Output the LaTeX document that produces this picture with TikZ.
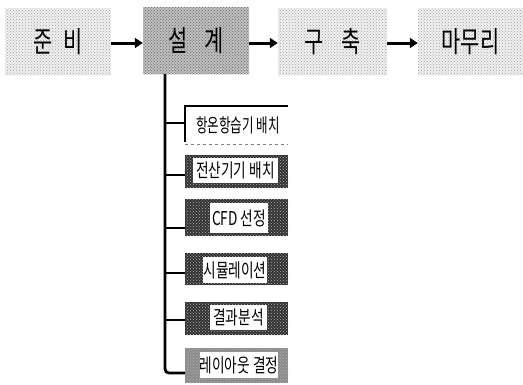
\documentclass[tikz,border=0pt]{standalone}
\usepackage{fontspec}
\setmainfont{Noto Sans CJK KR}
\newfontfamily\condfont[FakeStretch=0.72]{Noto Sans CJK KR}
\newfontfamily\narrowfont[FakeStretch=0.66]{Noto Sans CJK KR}
\usetikzlibrary{patterns,arrows.meta}
\begin{document}
\begin{tikzpicture}[x=1pt,y=-1pt,
  phase/.style={rectangle, inner sep=0pt, minimum height=67pt, fill=gray!12,
    postaction={pattern=crosshatch dots, pattern color=gray!75}, font=\condfont\fontsize{29}{31}\selectfont},
  phasedark/.style={phase, fill=gray!50, postaction={pattern=crosshatch dots, pattern color=gray!85!black}},
  outerbox/.style={rectangle, inner sep=0pt, minimum width=103pt, fill=black!80,
    postaction={pattern=crosshatch dots, pattern color=gray!60}},
  innerbox/.style={rectangle, inner sep=0pt, fill=white, font=\condfont\fontsize{19}{21}\selectfont},
  flow/.style={line width=3pt, -{Triangle[length=8pt,width=10pt]}},
  trunk/.style={line width=2.8pt}]
\useasboundingbox (0,0) rectangle (523,384);
% top row
\node[phase, minimum width=106pt] (prep) at (58,41.5) {준\hspace{0.35em}비};
\node[phasedark, minimum width=106pt] (design) at (196,40.5) {설\hspace{0.6em}계};
\node[phase, minimum width=109pt] (build) at (332.5,41.5) {구\hspace{0.6em}축};
\node[phase, minimum width=105pt] (finish) at (470.5,41.5) {마무리};
\draw[flow] (prep.east |- 0,43) -- (design.west |- 0,43);
\draw[flow] (design.east |- 0,43) -- (build.west |- 0,43);
\draw[flow] (build.east |- 0,43) -- (finish.west |- 0,43);
% sub boxes
\node[rectangle, inner sep=0pt, minimum width=103pt, minimum height=35pt, fill=white, draw=none] (s1) at (236.5,124) {};
\node[innerbox, minimum width=94pt, minimum height=27pt, font=\narrowfont\fontsize{19}{21}\selectfont] (t1) at (238,125) {항온항습기 배치};
\draw[line width=2pt] (s1.south west) -- (s1.north west) -- (s1.north east);
\draw[gray, dashed, line width=1pt] ([yshift=-3pt]s1.south west) -- ([yshift=-3pt]s1.south east);

\node[outerbox, minimum height=33pt] (s2) at (236.5,171.5) {};
\node[innerbox, minimum width=85pt, minimum height=25pt] (t2) at (235.5,170.5) {전산기기 배치};

\node[outerbox, minimum height=37pt] (s3) at (236.5,217.5) {};
\node[innerbox, minimum width=58pt, minimum height=30pt] (t3) at (239,218) {CFD 선정};

\node[outerbox, minimum height=32pt] (s4) at (236.5,269) {};
\node[innerbox, minimum width=64pt, minimum height=26pt] (t4) at (235,270) {시뮬레이션};

\node[outerbox, minimum height=33pt] (s5) at (236.5,318.5) {};
\node[innerbox, minimum width=57pt, minimum height=25pt] (t5) at (238.5,317.5) {결과분석};

\node[outerbox, minimum height=35pt, fill=black!45] (s6) at (236.5,365.5) {};
\node[innerbox, minimum width=78pt, minimum height=26pt] (t6) at (239,365) {레이아웃 결정};

% trunk and branches
\coordinate (top) at (165,74);
\coordinate (b1) at (185,123);
\coordinate (b2) at (185,175);
\coordinate (b3) at (185,228);
\coordinate (b4) at (185,273);
\coordinate (b5) at (185,320);
\coordinate (b6) at (185,373);
\draw[trunk, rounded corners=4pt] (top) |- (b6);
\foreach \b in {b1,b2,b3,b4,b5} \draw[trunk] (top |- \b) -- (\b);
\end{tikzpicture}
\end{document}
